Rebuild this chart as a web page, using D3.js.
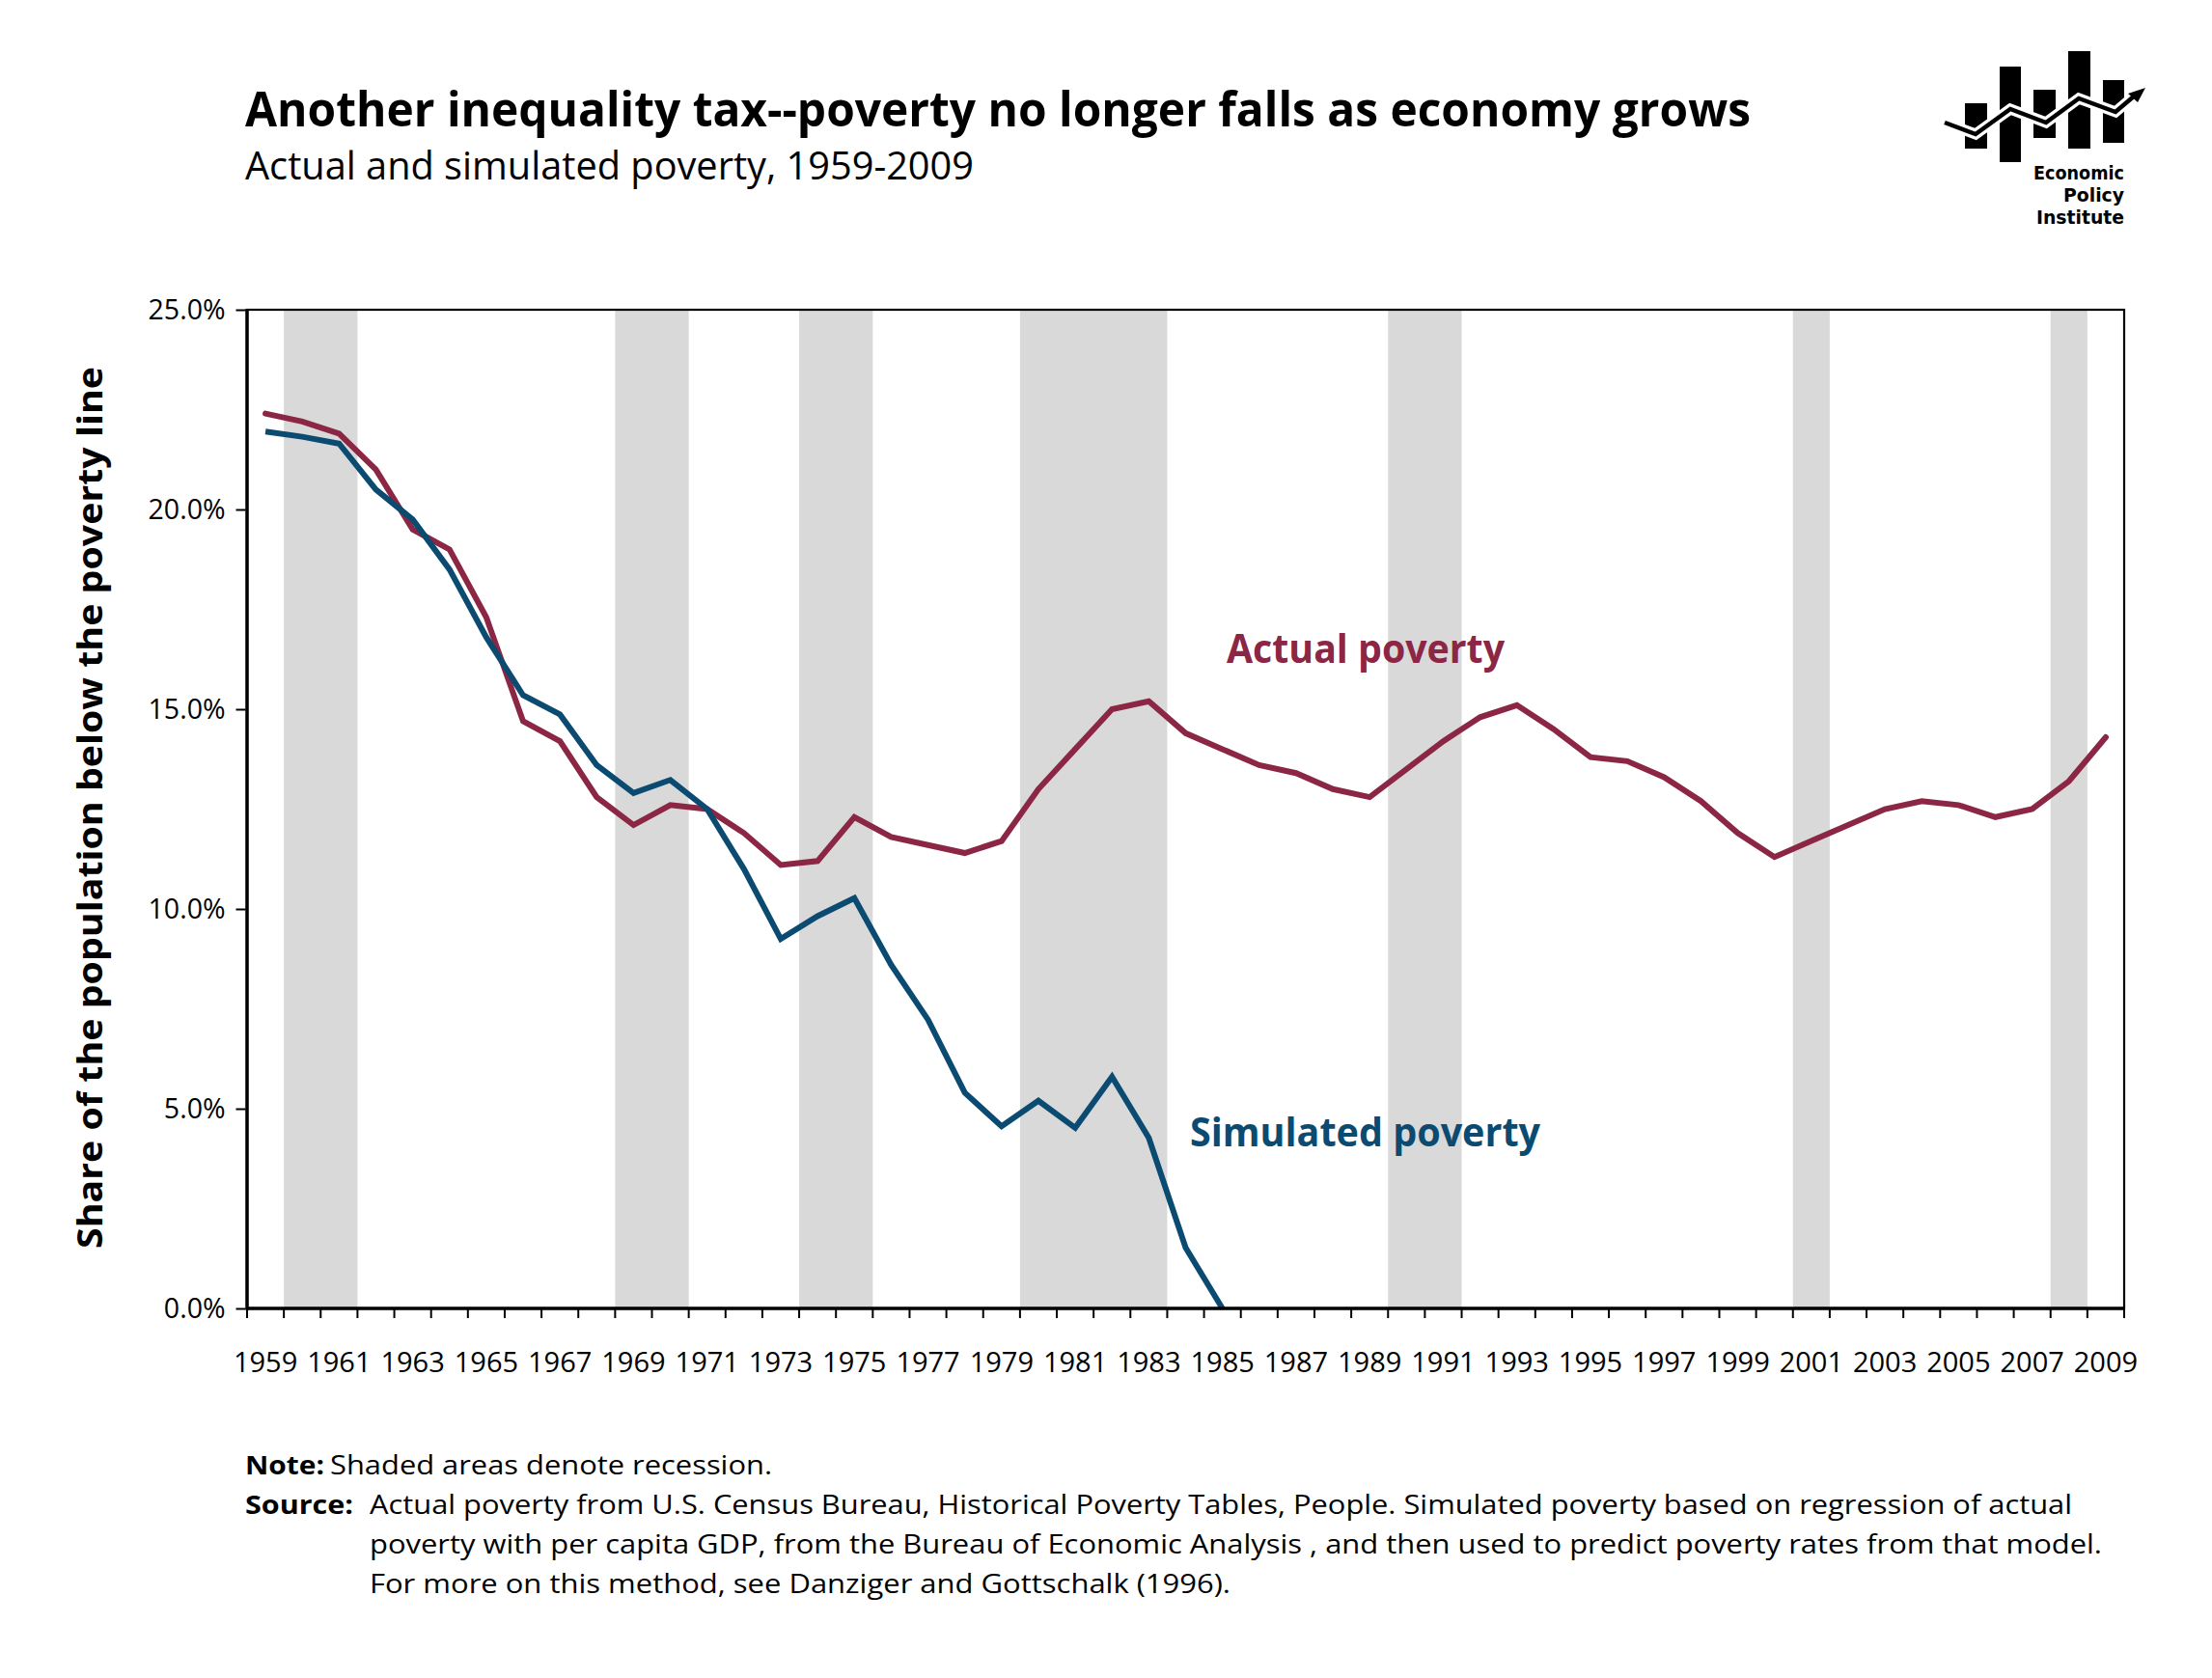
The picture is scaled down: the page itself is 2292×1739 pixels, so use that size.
<!DOCTYPE html>
<html><head><meta charset="utf-8">
<script src="https://cdn.jsdelivr.net/npm/d3@7"></script>
<style>body{margin:0;background:#fff} svg{display:block}</style>
</head><body>
<svg id="c" width="2292" height="1739"></svg>
<script>
// ---------- DATA ----------
const years = d3.range(1959, 2010);
const actualPoverty = [22.4,22.2,21.9,21.0,19.5,19.0,17.3,14.7,14.2,12.8,
  12.1,12.6,12.5,11.9,11.1,11.2,12.3,11.8,11.6,11.4,
  11.7,13.0,14.0,15.0,15.2,14.4,14.0,13.6,13.4,13.0,
  12.8,13.5,14.2,14.8,15.1,14.5,13.8,13.7,13.3,12.7,
  11.9,11.3,11.7,12.1,12.5,12.7,12.6,12.3,12.5,13.2,14.3];
const simulatedYears = d3.range(1959, 1986);
const simulatedPoverty = [21.95,21.82,21.65,20.5,19.75,18.5,16.8,15.35,14.87,13.6,
  12.9,13.23,12.5,11.0,9.25,9.82,10.27,8.6,7.23,5.4,
  4.56,5.2,4.52,5.8,4.27,1.52,0];
const recessions = [[1960,1961],[1969,1970],[1974,1975],[1980,1983],[1990,1991],[2001,2001],[2008,2008]];
const yTicks = [0,5,10,15,20,25];
const xLabelYears = years.filter((d,i)=> i % 2 === 0);
const titleText = "Another inequality tax--poverty no longer falls as economy grows";
const subtitleText = "Actual and simulated poverty, 1959-2009";
const yAxisTitle = "Share of the population below the poverty line";
const seriesLabels = ["Actual poverty", "Simulated poverty"];
const noteLabel = "Note:";
const noteText = "Shaded areas denote recession.";
const sourceLabel = "Source:";
const sourceLines = [
  "Actual poverty from U.S. Census Bureau, Historical Poverty Tables, People. Simulated poverty based on regression of actual",
  "poverty with per capita GDP, from the Bureau of Economic Analysis , and then used to predict poverty rates from that model.",
  "For more on this method, see Danziger and Gottschalk (1996)."
];
const logoWords = ["Economic","Policy","Institute"];

// ---------- STYLE / LAYOUT ----------
const COL_ACT = "#8b2644", COL_SIM = "#0b4b71", COL_REC = "#d9d9d9";
const FONT = "'Open Sans', 'Noto Sans', sans-serif";
const plot = {left:256, right:2201, top:321, bottom:1356};
const svg = d3.select("#c");
svg.append("rect").attr("width",2292).attr("height",1739).attr("fill","#fff");

function fit(sel, w){ sel.attr("textLength", w).attr("lengthAdjust","spacingAndGlyphs"); return sel; }

const x = d3.scaleBand().domain(years).range([plot.left, plot.right]).padding(0);
const y = d3.scaleLinear().domain([0,25]).range([plot.bottom, plot.top]);
const cx = d => x(d) + x.bandwidth()/2;

// recession shading
svg.append("g").selectAll("rect").data(recessions).join("rect")
  .attr("x", d => x(d[0]))
  .attr("width", d => x(d[1]) + x.bandwidth() - x(d[0]))
  .attr("y", plot.top).attr("height", plot.bottom - plot.top)
  .attr("fill", COL_REC);

// lines
const line = d3.line().x(d => cx(d[0])).y(d => y(d[1]));
svg.append("path").datum(years.map((yr,i)=>[yr, actualPoverty[i]]))
  .attr("d", line).attr("fill","none").attr("stroke",COL_ACT)
  .attr("stroke-width",6).attr("stroke-linecap","round").attr("stroke-linejoin","miter");
svg.append("path").datum(simulatedYears.map((yr,i)=>[yr, simulatedPoverty[i]]))
  .attr("d", line).attr("fill","none").attr("stroke",COL_SIM)
  .attr("stroke-width",6).attr("stroke-linecap","butt").attr("stroke-linejoin","miter");

// frame
svg.append("rect").attr("x",plot.left).attr("y",plot.top)
  .attr("width",plot.right-plot.left).attr("height",plot.bottom-plot.top)
  .attr("fill","none").attr("stroke","#000").attr("stroke-width",2.2);
svg.append("line").attr("x1",plot.left).attr("x2",plot.left).attr("y1",plot.top-1).attr("y2",plot.bottom+1.5)
  .attr("stroke","#000").attr("stroke-width",3.5);
svg.append("line").attr("x1",plot.left).attr("x2",plot.right+1).attr("y1",plot.bottom).attr("y2",plot.bottom)
  .attr("stroke","#000").attr("stroke-width",3.5);

// y axis
const yAxis = svg.append("g").attr("transform",`translate(${plot.left-1.5},0)`)
  .call(d3.axisLeft(y).tickValues(yTicks).tickFormat(d => d.toFixed(1)+"%").tickSize(10).tickPadding(11));
yAxis.select(".domain").remove();
yAxis.selectAll(".tick line").attr("stroke","#000").attr("stroke-width",2);
yAxis.selectAll(".tick text").attr("font-family",FONT).attr("font-size",28.5).attr("fill","#000");

// x ticks at band boundaries
const boundaries = years.map(d => x(d)).concat([x(years[years.length-1]) + x.bandwidth()]);
svg.append("g").selectAll("line").data(boundaries).join("line")
  .attr("x1", d=>d).attr("x2", d=>d).attr("y1", plot.bottom).attr("y2", plot.bottom+10)
  .attr("stroke","#000").attr("stroke-width",2);
svg.append("g").selectAll("text").data(xLabelYears).join("text")
  .attr("x", d => cx(d)).attr("y", 1422).attr("text-anchor","middle")
  .attr("font-family",FONT).attr("font-size",29).attr("fill","#000")
  .text(d => d);

// y axis title
fit(svg.append("text").attr("transform","translate(106,837) rotate(-90)")
  .attr("text-anchor","middle").attr("font-family",FONT).attr("font-weight",700)
  .attr("font-size",36).attr("fill","#000").text(yAxisTitle), 914);

// title & subtitle
fit(svg.append("text").attr("x",254).attr("y",131).attr("font-family",FONT).attr("font-weight",700)
  .attr("font-size",51).attr("fill","#000").text(titleText), 1560);
fit(svg.append("text").attr("x",254).attr("y",186).attr("font-family",FONT)
  .attr("font-size",41).attr("fill","#000").text(subtitleText), 755);

// series labels
fit(svg.append("text").attr("x",1271).attr("y",687).attr("font-family",FONT).attr("font-weight",700)
  .attr("font-size",42).attr("fill",COL_ACT).text(seriesLabels[0]), 288);
fit(svg.append("text").attr("x",1233).attr("y",1188).attr("font-family",FONT).attr("font-weight",700)
  .attr("font-size",42).attr("fill",COL_SIM).text(seriesLabels[1]), 363);

// notes
const nf = 27.5;
fit(svg.append("text").attr("x",254).attr("y",1528).attr("font-family",FONT).attr("font-weight",700)
  .attr("font-size",nf).text(noteLabel), 82);
fit(svg.append("text").attr("x",342).attr("y",1528).attr("font-family",FONT)
  .attr("font-size",nf).text(noteText), 458);
fit(svg.append("text").attr("x",254).attr("y",1569).attr("font-family",FONT).attr("font-weight",700)
  .attr("font-size",nf).text(sourceLabel), 112);
const srcW = [1764, 1795, 892];
sourceLines.forEach((t,i)=>{
  fit(svg.append("text").attr("x",383).attr("y",1569+i*41).attr("font-family",FONT)
    .attr("font-size",nf).text(t), srcW[i]);
});

// logo (decoration)
const logo = svg.append("g");
const logoBars = [[2036,107,23,47],[2072,69,22,99],[2107,93,23,50],[2143,53,23,101],[2179,83,22,65]];
logo.selectAll("rect").data(logoBars).join("rect")
  .attr("x",d=>d[0]).attr("y",d=>d[1]).attr("width",d=>d[2]).attr("height",d=>d[3]).attr("fill","#000");
const zz = "M2015,127 L2047,139 L2083,113 L2120,127 L2154,102 L2192,116 L2212,99";
logo.append("path").attr("d",zz).attr("fill","none").attr("stroke","#fff").attr("stroke-width",11).attr("stroke-linejoin","miter");
logo.append("path").attr("d",zz).attr("fill","none").attr("stroke","#000").attr("stroke-width",4.5).attr("stroke-linejoin","miter");
logo.append("path").attr("d","M2223,91 L2205,97 L2215,106 Z").attr("fill","#000");
logoWords.forEach((w,i)=>{
  const t = logo.append("text").attr("x",2201).attr("y",186+i*23).attr("text-anchor","end")
    .attr("font-family","'DejaVu Sans Condensed','DejaVu Sans',sans-serif").attr("font-weight",700)
    .attr("font-size",19).attr("fill","#000").text(w);
  fit(t, [94,63,91][i]);
});
</script>
</body></html>
